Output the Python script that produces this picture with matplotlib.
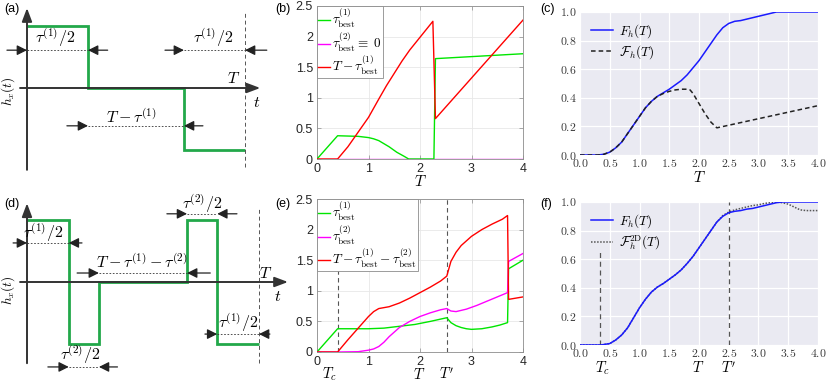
import matplotlib
matplotlib.use('Agg')
import matplotlib.pyplot as plt
import numpy as np
from matplotlib.transforms import blended_transform_factory

plt.rcParams['mathtext.fontset'] = 'cm'
plt.rcParams['font.family'] = ['Liberation Sans', 'DejaVu Sans']

# ---------------- data ----------------
# (a) schematic single pulse: edges (in units of T) and levels
a_edges = [0.0, 0.28, 0.72, 1.0]
a_levels = [1, 0, -1]
# (d) schematic double pulse
d_edges = [0.0, 0.18, 0.31, 0.69, 0.82, 1.0]
d_levels = [1, -1, 0, 1, -1]

# (b)
b_T_g = [0, 0.4, 0.8, 1.0, 1.1, 1.2, 1.3, 1.4, 1.55, 1.7, 1.78, 2.27, 2.3, 4.0]
b_tau1 = [0, 0.38, 0.37, 0.35, 0.33, 0.30, 0.25, 0.20, 0.11, 0.04, 0.0, 0.0, 1.64, 1.72]
b_T_m = [0, 4.0]
b_tau2 = [0, 0]
b_T_r = [0, 0.4, 0.6, 0.75, 1.0, 1.2, 1.35, 1.5, 1.65, 1.8, 2.25, 2.3, 4.0]
b_red = [0, 0, 0.2, 0.38, 0.68, 0.98, 1.2, 1.4, 1.6, 1.78, 2.25, 0.66, 2.27]

# (c)
c_T = [0, 0.3, 0.4, 0.5, 0.6, 0.7, 0.8, 0.9, 1.0, 1.1, 1.2, 1.3, 1.4, 1.5, 1.6, 1.7, 1.8,
       1.9, 2.0, 2.1, 2.2, 2.3, 2.4, 2.5, 2.6, 2.7, 2.8, 2.9, 3.0, 3.1, 3.2, 3.3, 3.5, 4.0]
c_F = [0, 0.0, 0.005, 0.02, 0.05, 0.09, 0.15, 0.21, 0.27, 0.33, 0.375, 0.41, 0.435, 0.46,
       0.49, 0.52, 0.56, 0.61, 0.66, 0.72, 0.78, 0.84, 0.89, 0.92, 0.935, 0.94, 0.95, 0.96,
       0.97, 0.98, 0.99, 1.0, 1.0, 1.0]
c_T2 = [0, 0.3, 0.4, 0.5, 0.6, 0.7, 0.8, 0.9, 1.0, 1.1, 1.2, 1.3, 1.4, 1.5, 1.6, 1.7, 1.8,
        1.85, 1.9, 2.0, 2.1, 2.2, 2.3, 4.0]
c_Fcal = [0, 0.0, 0.005, 0.02, 0.05, 0.09, 0.15, 0.21, 0.27, 0.33, 0.375, 0.41, 0.43, 0.445,
          0.455, 0.46, 0.46, 0.455, 0.43, 0.36, 0.29, 0.23, 0.19, 0.345]

# (e)
e_T_g = [0, 0.4, 0.7, 1.0, 1.3, 1.6, 1.9, 2.2, 2.52, 2.6, 2.7, 2.8, 2.9, 3.0, 3.2, 3.4, 3.55, 3.7, 3.72, 4.0]
e_tau1 = [0, 0.38, 0.38, 0.38, 0.39, 0.42, 0.45, 0.5, 0.56, 0.48, 0.43, 0.40, 0.38, 0.37, 0.38, 0.41, 0.44, 0.48, 1.36, 1.5]
e_T_m = [0, 0.4, 0.8, 1.0, 1.1, 1.2, 1.3, 1.4, 1.6, 1.8, 2.0, 2.2, 2.4, 2.52, 2.6, 2.7, 2.9, 3.1, 3.3, 3.5, 3.7, 3.72, 4.0]
e_tau2 = [0, 0, 0.005, 0.03, 0.05, 0.09, 0.16, 0.25, 0.40, 0.50, 0.58, 0.64, 0.69, 0.71, 0.67, 0.66, 0.70, 0.76, 0.83, 0.90, 0.97, 1.48, 1.61]
e_T_r = [0, 0.4, 0.6, 0.8, 1.0, 1.1, 1.2, 1.4, 1.6, 1.8, 2.0, 2.2, 2.4, 2.52, 2.55, 2.6, 2.7, 2.8, 3.0, 3.2, 3.4, 3.6, 3.7, 3.72, 4.0]
e_red = [0, 0, 0.2, 0.39, 0.58, 0.66, 0.71, 0.74, 0.8, 0.88, 0.97, 1.06, 1.16, 1.24, 1.33, 1.48, 1.63, 1.74, 1.89, 2.0, 2.09, 2.17, 2.23, 0.86, 0.9]
e_Tc = 0.4
e_Tp = 2.52

# (f)
f_T = [0, 0.35, 0.5, 0.6, 0.7, 0.8, 0.9, 1.0, 1.1, 1.2, 1.3, 1.4, 1.5, 1.6, 1.7, 1.8, 1.9, 2.0,
       2.1, 2.2, 2.3, 2.4, 2.5, 2.6, 2.7, 2.8, 2.9, 3.0, 3.1, 3.2, 3.3, 3.4, 4.0]
f_F = [0, 0.0, 0.01, 0.035, 0.07, 0.12, 0.19, 0.26, 0.32, 0.37, 0.405, 0.43, 0.46, 0.49, 0.525,
       0.57, 0.62, 0.68, 0.74, 0.8, 0.86, 0.9, 0.925, 0.935, 0.94, 0.95, 0.955, 0.965, 0.975,
       0.985, 0.995, 1.0, 1.0]
f_T2 = [0, 0.35, 0.5, 0.6, 0.7, 0.8, 0.9, 1.0, 1.1, 1.2, 1.3, 1.4, 1.5, 1.6, 1.7, 1.8, 1.9, 2.0,
        2.1, 2.2, 2.3, 2.4, 2.5, 2.6, 2.7, 2.8, 2.9, 3.0, 3.1, 3.2, 3.3, 3.4, 3.5, 3.6, 3.7, 3.8, 4.0]
f_F2D = [0, 0.0, 0.01, 0.035, 0.07, 0.12, 0.19, 0.26, 0.32, 0.37, 0.405, 0.43, 0.46, 0.49, 0.525,
         0.57, 0.62, 0.68, 0.74, 0.8, 0.86, 0.905, 0.93, 0.945, 0.955, 0.965, 0.975, 0.98, 0.99,
         0.995, 1.0, 0.995, 0.985, 0.965, 0.945, 0.94, 0.94]
f_Tc = 0.33
f_Tp = 2.5

matlab_xticks = [0, 1, 2, 3, 4]
matlab_yticks = [0, 0.5, 1, 1.5, 2, 2.5]
matlab_yticklabels = ['0', '0.5', '1', '1.5', '2', '2.5']
sns_xticks = [0.0, 0.5, 1.0, 1.5, 2.0, 2.5, 3.0, 3.5, 4.0]
sns_yticks = [0.0, 0.2, 0.4, 0.6, 0.8, 1.0]

# ---------------- figure ----------------
W, H = 831, 382
fig = plt.figure(figsize=(W / 100, H / 100), dpi=100)


def px_axes(x0, y0, x1, y1, **kw):
    return fig.add_axes([x0 / W, 1 - y1 / H, (x1 - x0) / W, (y1 - y0) / H], **kw)


GREEN_S = '#22a84a'
AXC = '#333333'


def harrow(ax, x0, x1, y):
    ax.annotate('', xy=(x1, y), xytext=(x0, y),
                arrowprops=dict(arrowstyle='-|>,head_length=0.6,head_width=0.3',
                                color='#222222', lw=0.9, shrinkA=0, shrinkB=0),
                annotation_clip=False)


def dashed(ax, x0, x1, y):
    ax.plot([x0, x1], [y, y], color='#333333', lw=0.6, ls=(0, (2, 2)), clip_on=False)


def measure(ax, xa, xb, x_out_l, x_out_r, y):
    harrow(ax, x_out_l, xa, y)
    dashed(ax, xa, xb, y)
    harrow(ax, x_out_r, xb, y)


def axis_arrows(ax, xl, xr, yb, yt):
    ax.annotate('', xy=(0, yt), xytext=(0, yb),
                arrowprops=dict(arrowstyle='-|>,head_length=0.8,head_width=0.3',
                                color=AXC, lw=1.4, shrinkA=0, shrinkB=0), annotation_clip=False)
    ax.annotate('', xy=(xr, 0), xytext=(xl, 0),
                arrowprops=dict(arrowstyle='-|>,head_length=0.8,head_width=0.3',
                                color=AXC, lw=1.4, shrinkA=0, shrinkB=0), annotation_clip=False)


LBL = 11.5

# ---- (a) ----
axa = px_axes(0, 0, 280, 190)
axa.set_xlim(-27 / 218, 253 / 218)
axa.set_ylim(-102 / 62, 88 / 62)
axa.axis('off')
axis_arrows(axa, -0.032, 1.07, -1.32, 1.29)
axa.plot([1, 1], [-1.27, 1.21], color='#555555', lw=0.7, ls=(0, (4, 3)))
axa.stairs(a_levels, a_edges, baseline=None, color=GREEN_S, lw=2)
measure(axa, 0, a_edges[1], -0.092, 0.37, 0.61)
measure(axa, a_edges[2], a_edges[3], 0.633, 1.10, 0.61)
measure(axa, a_edges[1], a_edges[2], 0.183, 0.807, -0.61)
axa.text(0.13, 0.81, r'$\tau^{(1)}/2$', ha='center', va='center', fontsize=LBL)
axa.text(0.855, 0.81, r'$\tau^{(1)}/2$', ha='center', va='center', fontsize=LBL)
axa.text(0.48, -0.47, r'$T-\tau^{(1)}$', ha='center', va='center', fontsize=LBL)
axa.text(0.95, 0.15, r'$T$', ha='center', va='center', fontsize=LBL)
axa.text(1.055, -0.23, r'$t$', ha='center', va='center', fontsize=LBL)
axa.text(-0.085, -0.06, r'$h_x(t)$', ha='center', va='center', fontsize=9.5, rotation=90)

# ---- (d) ----
axd = px_axes(0, 190, 300, 382)
axd.set_xlim(-27 / 232, 273 / 232)
axd.set_ylim(-100 / 62, 92 / 62)
axd.axis('off')
axis_arrows(axd, -0.03, 1.125, -1.31, 1.27)
axd.plot([1, 1], [-1.31, 1.21], color='#555555', lw=0.7, ls=(0, (4, 3)))
axd.stairs(d_levels, d_edges, baseline=None, color=GREEN_S, lw=2)
measure(axd, d_edges[0], d_edges[1], -0.06, 0.237, 0.63)
measure(axd, d_edges[2], d_edges[3], 0.216, 0.79, 0.145)
measure(axd, d_edges[3], d_edges[4], 0.603, 0.905, 1.10)
measure(axd, d_edges[4], d_edges[5], 0.767, 1.047, -0.84)
measure(axd, d_edges[1], d_edges[2], 0.09, 0.39, -1.37)
axd.text(0.07, 0.79, r'$\tau^{(1)}/2$', ha='center', va='center', fontsize=LBL)
axd.text(0.496, 0.32, r'$T-\tau^{(1)}-\tau^{(2)}$', ha='center', va='center', fontsize=LBL)
axd.text(0.754, 1.27, r'$\tau^{(2)}/2$', ha='center', va='center', fontsize=LBL)
axd.text(0.91, -0.66, r'$\tau^{(1)}/2$', ha='center', va='center', fontsize=LBL)
axd.text(0.228, -1.18, r'$\tau^{(2)}/2$', ha='center', va='center', fontsize=LBL)
axd.text(1.03, 0.145, r'$T$', ha='center', va='center', fontsize=LBL)
axd.text(1.08, -0.24, r'$t$', ha='center', va='center', fontsize=LBL)
axd.text(-0.08, -0.13, r'$h_x(t)$', ha='center', va='center', fontsize=9.5, rotation=90)


# ---- matlab style panels ----
def matlab_style(ax):
    ax.set_xlim(0, 4)
    ax.set_ylim(0, 2.5)
    ax.set_xticks(matlab_xticks)
    ax.set_yticks(matlab_yticks)
    ax.set_yticklabels(matlab_yticklabels)
    for s in ax.spines.values():
        s.set_color('#8c8c8c')
        s.set_linewidth(0.6)
    ax.grid(True, color='#e8e8e8', lw=0.6)
    ax.set_axisbelow(True)
    ax.tick_params(direction='in', length=3, width=0.5, color='#8c8c8c',
                   labelsize=9, labelcolor='#262626', pad=3, top=True, right=True)


LEG_KW = dict(loc='upper left', fontsize=9.5, handlelength=0.9, handletextpad=0.15,
              borderpad=0.1, labelspacing=0.0, borderaxespad=0, fancybox=False,
              framealpha=1, edgecolor='#8c8c8c')

axb = px_axes(317, 6, 523, 159)
matlab_style(axb)
axb.plot(b_T_g, b_tau1, color='#00e600', lw=1.0, label=r'$\tau^{(1)}_{\rm best}$', zorder=3)
axb.plot(b_T_m, b_tau2, color='#ff00ff', lw=1.0, label=r'$\tau^{(2)}_{\rm best}\equiv\ 0$', zorder=2)
axb.plot(b_T_r, b_red, color='#ff0000', lw=1.0, label=r'$T-\tau^{(1)}_{\rm best}$', zorder=3)
axb.set_xlabel(r'$T$', fontsize=11, labelpad=-1)
lg = axb.legend(**LEG_KW)
lg.get_frame().set_linewidth(0.6)

axe = px_axes(317, 199, 523, 352)
matlab_style(axe)
axe.axvline(e_Tc, color='#555555', lw=0.8, ls=(0, (4, 3)))
axe.axvline(e_Tp, color='#555555', lw=0.8, ls=(0, (4, 3)))
axe.plot(e_T_g, e_tau1, color='#00e600', lw=1.0, label=r'$\tau^{(1)}_{\rm best}$', zorder=3)
axe.plot(e_T_m, e_tau2, color='#ff00ff', lw=1.0, label=r'$\tau^{(2)}_{\rm best}$', zorder=3)
axe.plot(e_T_r, e_red, color='#ff0000', lw=1.0,
         label=r'$T-\tau^{(1)}_{\rm best}-\tau^{(2)}_{\rm best}$', zorder=3)
lg = axe.legend(**LEG_KW)
lg.get_frame().set_linewidth(0.6)
tr = blended_transform_factory(axe.transData, axe.transAxes)
axe.text(0.25, -0.145, r'$T_c$', transform=tr, ha='center', va='center', fontsize=10.5)
axe.text(1.98, -0.145, r'$T$', transform=tr, ha='center', va='center', fontsize=10.5)
axe.text(2.52, -0.145, r"$T'$", transform=tr, ha='center', va='center', fontsize=10.5)


# ---- seaborn style panels ----
def sns_style(ax):
    ax.set_facecolor('#EAEAF2')
    ax.set_xlim(0, 4)
    ax.set_ylim(0, 1)
    ax.set_xticks(sns_xticks)
    ax.set_yticks(sns_yticks)
    ax.set_xticklabels([f'${v:.1f}$' for v in sns_xticks])
    ax.set_yticklabels([f'${v:.1f}$' for v in sns_yticks])
    for s in ax.spines.values():
        s.set_visible(False)
    ax.grid(True, color='white', lw=0.9)
    ax.set_axisbelow(True)
    ax.tick_params(length=0, labelsize=8.5, labelcolor='#3a3a3a', pad=2.5)


SLEG_KW = dict(loc='upper left', frameon=False, fontsize=9.5, handlelength=1.7,
               handletextpad=0.45, labelspacing=0.25, borderaxespad=0.4)

axc = px_axes(580, 12, 818, 155)
sns_style(axc)
axc.plot(c_T, c_F, color='#1a1aff', lw=1.1, label=r'$F_h(T)$')
axc.plot(c_T2, c_Fcal, color='#222222', lw=1.1, ls=(0, (3, 2)), label=r'$\mathcal{F}_h(T)$')
axc.set_xlabel(r'$T$', fontsize=11, labelpad=0)
axc.legend(**SLEG_KW)

axf = px_axes(580, 202, 818, 345)
sns_style(axf)
axf.plot([f_Tc, f_Tc], [0, 0.66], color='#555555', lw=0.9, ls=(0, (4, 3)))
axf.axvline(f_Tp, color='#555555', lw=0.9, ls=(0, (4, 3)))
axf.plot(f_T2, f_F2D, color='#555555', lw=1.1, ls=(0, (1, 1)), label=r'$\mathcal{F}_h^{\rm 2D}(T)$', zorder=2)
axf.plot(f_T, f_F, color='#1a1aff', lw=1.1, label=r'$F_h(T)$', zorder=3)
h, l = axf.get_legend_handles_labels()
axf.legend(h[::-1], l[::-1], **SLEG_KW)
tr = blended_transform_factory(axf.transData, axf.transAxes)
axf.text(0.37, -0.16, r'$T_c$', transform=tr, ha='center', va='center', fontsize=10.5)
axf.text(1.98, -0.16, r'$T$', transform=tr, ha='center', va='center', fontsize=10.5)
axf.text(2.49, -0.16, r"$T'$", transform=tr, ha='center', va='center', fontsize=10.5)

# panel labels
for lab, x, y in [('(a)', 4, 9), ('(b)', 275, 9), ('(c)', 540, 9),
                  ('(d)', 4, 204), ('(e)', 275, 204), ('(f)', 540, 204)]:
    fig.text(x / W, 1 - y / H, lab, ha='left', va='center', fontsize=9)

fig.savefig('out.png', dpi=100)
